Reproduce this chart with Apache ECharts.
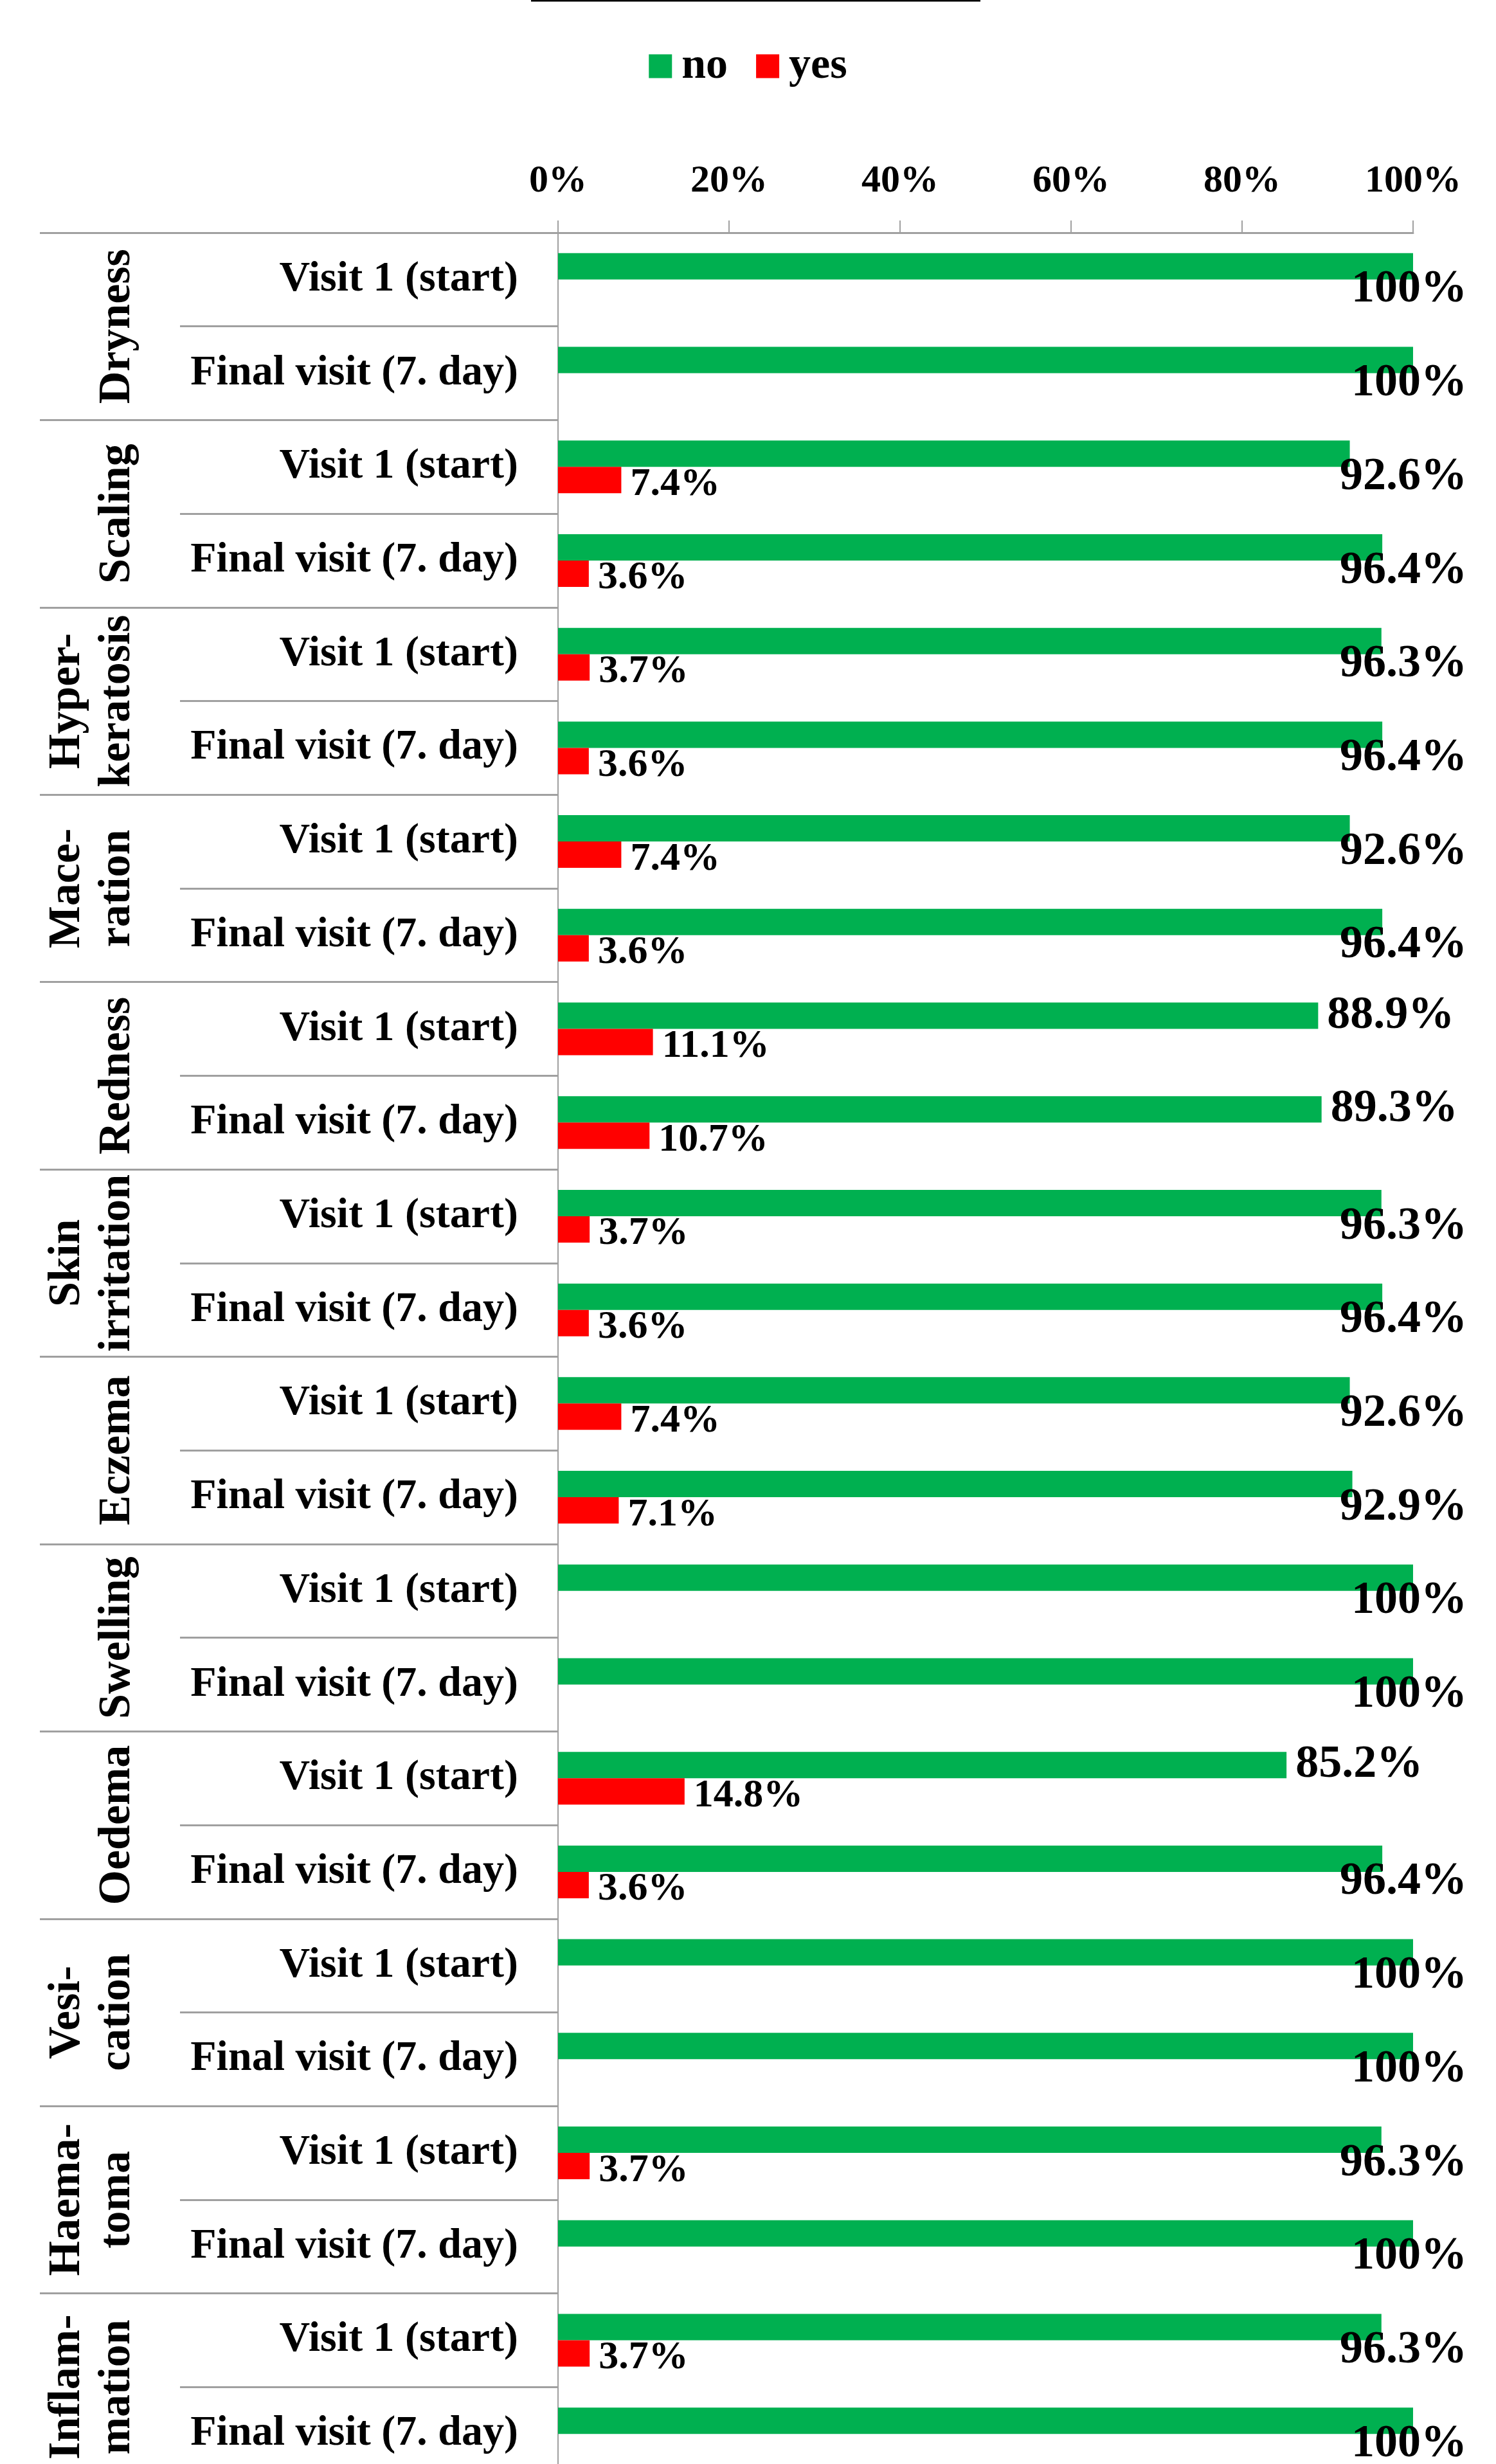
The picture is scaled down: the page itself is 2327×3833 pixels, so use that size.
<!DOCTYPE html>
<html lang="en">
<head>
    <meta charset="UTF-8">
    <title>Skin findings</title>
    <script src="https://cdn.jsdelivr.net/npm/echarts@6/dist/echarts.min.js"></script>
    <style>
        html, body { margin: 0; padding: 0; background: #fff; }
        #frame { width: 2327px; height: 3833px; overflow: hidden; position: relative; }
        /* the chart runs a little past the bottom edge, like the original crop */
        #chart { width: 2327px; height: 3860px; }
    </style>
</head>
<body>
<div id="frame"><div id="chart"></div></div>
<script>
    // data
    const groups = ['Dryness', 'Scaling', 'Hyper-\nkeratosis', 'Mace-\nration', 'Redness', 'Skin\nirritation',
        'Eczema', 'Swelling', 'Oedema', 'Vesi-\ncation', 'Haema-\ntoma', 'Inflam-\nmation'];
    const visits = ['Visit 1 (start)', 'Final visit (7. day)'];
    const noValues = [100, 100, 92.6, 96.4, 96.3, 96.4, 92.6, 96.4, 88.9, 89.3, 96.3, 96.4,
        92.6, 92.9, 100, 100, 85.2, 96.4, 100, 100, 96.3, 100, 96.3, 100];
    const yesValues = [0, 0, 7.4, 3.6, 3.7, 3.6, 7.4, 3.6, 11.1, 10.7, 3.7, 3.6,
        7.4, 7.1, 0, 0, 14.8, 3.6, 0, 0, 3.7, 0, 3.7, 0];

    const rowKeys = [];
    groups.forEach(function (g, i) {
        visits.forEach(function (v) { rowKeys.push(i + '|' + v); });
    });

    const font = '"Liberation Serif", serif';
    const lineColor = '#a0a0a0';
    const chart = echarts.init(document.getElementById('chart'));

    function pct(p) {
        if (!p.value) return '';
        return p.value === 100 ? '100%' : p.value.toFixed(1) + '%';
    }

    function barLabel(size) {
        return {
            show: true,
            position: 'right',
            distance: 14,
            offset: [0, 7],
            formatter: pct,
            fontFamily: font,
            fontWeight: 'bold',
            fontSize: size,
            color: '#000'
        };
    }

    chart.setOption({
        animation: false,
        graphic: [{
            type: 'line',
            shape: { x1: 826, y1: 1, x2: 1525, y2: 1 },
            style: { stroke: '#000', lineWidth: 3 }
        }],
        legend: {
            top: 64,
            left: 'center',
            icon: 'rect',
            itemWidth: 36,
            itemHeight: 37,
            itemGap: 44,
            data: ['no', 'yes'],
            textStyle: { fontFamily: font, fontWeight: 'bold', fontSize: 68, color: '#000', padding: [0, 0, 0, 10] }
        },
        grid: { left: 868, right: 129, top: 362, height: 3497 },
        xAxis: {
            type: 'value',
            position: 'top',
            min: 0,
            max: 100,
            interval: 20,
            axisLine: { show: true, lineStyle: { color: lineColor, width: 3 } },
            axisTick: { show: true, length: 19, lineStyle: { color: lineColor, width: 2 } },
            splitLine: { show: false },
            axisLabel: {
                formatter: '{value}%',
                margin: 50,
                fontFamily: font,
                fontWeight: 'bold',
                fontSize: 60,
                color: '#000'
            }
        },
        yAxis: [{
            type: 'category',
            inverse: true,
            position: 'left',
            data: rowKeys,
            axisLine: { show: true, lineStyle: { color: lineColor, width: 2 } },
            axisTick: { show: true, interval: 0, length: 588, lineStyle: { color: lineColor, width: 3 } },
            axisLabel: {
                interval: 0,
                margin: 62,
                fontFamily: font,
                fontWeight: 'bold',
                fontSize: 66,
                color: '#000',
                formatter: function (v) { return v.split('|')[1]; }
            }
        }, {
            type: 'category',
            inverse: true,
            position: 'left',
            data: groups,
            axisLine: { show: false },
            axisTick: { show: true, interval: 0, length: 806, lineStyle: { color: lineColor, width: 3 } },
            axisLabel: {
                interval: 0,
                rotate: 90,
                margin: 646,
                fontFamily: font,
                fontWeight: 'bold',
                fontSize: 70,
                lineHeight: 78,
                color: '#000'
            }
        }],
        series: [{
            name: 'no',
            type: 'bar',
            yAxisIndex: 0,
            data: noValues,
            barWidth: 41,
            barGap: '0%',
            itemStyle: { color: '#00B050' },
            label: barLabel(72),
            labelLayout: function (p) {
                const right = chart.getWidth() - 45;
                if (p.labelRect.x + p.labelRect.width <= right) return {};
                return {
                    x: right,
                    y: p.rect.y + p.rect.height + 16,
                    align: 'right',
                    verticalAlign: 'middle'
                };
            }
        }, {
            name: 'yes',
            type: 'bar',
            yAxisIndex: 0,
            data: yesValues,
            barWidth: 41,
            barGap: '0%',
            itemStyle: { color: '#FF0000' },
            label: barLabel(62)
        }]
    });
</script>
</body>
</html>
